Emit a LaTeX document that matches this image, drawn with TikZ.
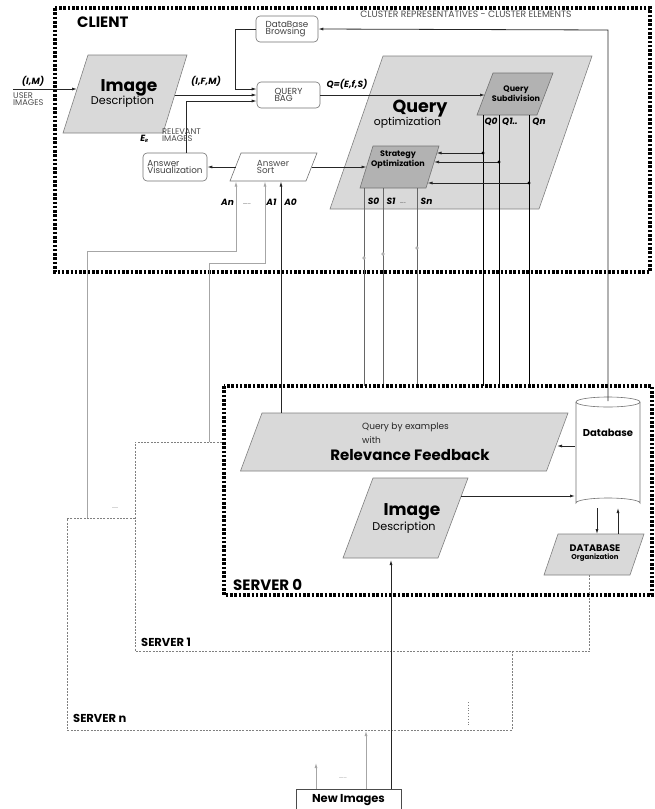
\documentclass[tikz,border=0pt]{standalone}
\usepackage{fontspec}
\setmainfont{Poppins}
\usetikzlibrary{arrows.meta,calc}
\begin{document}
\begin{tikzpicture}[x=1pt,y=-1pt,
  bigdot/.style={line width=3.2pt, dash pattern=on 2.6pt off 1.7pt},
  srvdash/.style={draw=black!50, line width=0.6pt, dash pattern=on 2pt off 1.3pt},
  plight/.style={draw=black!50, line width=0.6pt, fill=black!15},
  pdark/.style={draw=black!55, line width=0.6pt, fill=black!30},
  pwhite/.style={draw=black!55, line width=0.6pt, fill=white},
  rbox/.style={draw=black!55, line width=0.6pt, rounded corners=4pt, fill=white, align=left, text=black!75, font=\fontsize{8.8}{7.5}\selectfont, inner sep=0pt},
  tip/.style={-{Latex[length=5pt,width=3pt]}},
  arr/.style={draw=black!85, line width=0.8pt, tip},
  qarr/.style={draw=black, line width=1pt, tip},
  sarr/.style={draw=black!60, line width=0.6pt, tip},
  garr/.style={draw=black!35, line width=0.8pt, tip},
  lbl/.style={font=\bfseries\itshape\fontsize{9}{9}\selectfont, inner sep=0pt},
  thin/.style={font=\fontsize{8.3}{7}\selectfont, text=black!70, inner sep=0pt, align=left},
  big/.style={font=\bfseries\fontsize{17}{17}\selectfont, inner sep=0pt},
  desc/.style={font=\fontsize{11.2}{11.2}\selectfont, inner sep=0pt},
  subbox/.style={font=\bfseries\fontsize{8}{8.5}\selectfont, inner sep=0pt, align=center},
  srvlbl/.style={font=\bfseries\fontsize{15}{15}\selectfont, inner sep=0pt, anchor=west},
  srvlbls/.style={font=\bfseries\fontsize{11.5}{11.5}\selectfont, inner sep=0pt, anchor=west},
  dotsm/.style={font=\fontsize{5}{5}\selectfont, inner sep=0pt}
]
\useasboundingbox (0,0) rectangle (655,809);

% ---------------- server n and server 1 (dashed, behind) -------------
\draw[srvdash] (135,518) -- (67,518) -- (67,730) -- (512,730) -- (512,651);
\draw[srvdash] (222,442) -- (135,442) -- (135,651) -- (589,651);
\node[srvlbls] (srvn) at (73,718) {SERVER n};
\node[srvlbls] (srv1) at (141,642) {SERVER 1};
\draw[black!50, line width=0.8pt, dotted] (468,702) -- (468,727);
\node[dotsm, text=black!60] (ndots) at (115,508) {......};

% ---------------- CLIENT --------------------
\draw[bigdot] (55,8) rectangle (650,272);
\node[srvlbl] (client) at (77,22.5) {CLIENT};

% image description (client)
\draw[plight] (63,133) -- (163,133) -- (187,55) -- (88,55) -- cycle;
\node[big] (imgc) at (129,87.5) {Image};
\node[desc] (descc) at (122.5,102) {Description};
\coordinate (idcIn) at (77,89);
\coordinate (idcOut) at (175,95);
\coordinate (userin) at (13,89);
\node[lbl] (im) at (33,81) {(I,M)};
\node[thin, anchor=north west] (users) at (13,92) {USER\\IMAGES};
\draw[arr] (userin) -- (idcIn);
\node[lbl] (ifm) at (206,81) {(I,F,M)};

% boxes
\node[rbox, minimum width=62pt, minimum height=26pt] (dbb) at (287,29) {DataBase\\Browsing};
\node[rbox, minimum width=63pt, minimum height=26pt] (qbag) at (288.5,95) {QUERY\\BAG};
\node[rbox, minimum width=64pt, minimum height=28pt] (avis) at (175,167) {Answer\\Visualization};

% answer sort
\draw[pwhite] (230,181) -- (306,181) -- (317,153) -- (241,153) -- cycle;
\node[thin, font=\fontsize{8.8}{7.5}\selectfont] (asort) at (273,167) {Answer\\Sort};
\coordinate (asL) at (235.5,167);
\coordinate (asR) at (311.5,167);

% relevant images
\node[lbl] (er) at (144.5,139) {E\textsubscript{\fontsize{4.5}{4.5}\selectfont R}};
\node[thin, anchor=west] (relimg) at (162,135.5) {RELEVANT\\IMAGES};

% connectors to query bag
\draw[arr] (dbb.west) -- (235,29) |- ($(qbag.west)+(0,-6)$);
\draw[arr] (idcOut) -- (qbag.west);
\draw[arr] ($(avis.north)+(11,0)$) |- ($(qbag.west)+(0,6)$);
\draw[arr] (asL) -- (avis.east);

% query optimization
\draw[plight] (330,209) -- (539,209) -- (592,56) -- (383,56) -- cycle;
\node[font=\bfseries\fontsize{17.5}{17.5}\selectfont, inner sep=0pt] (qopt) at (420,109) {Query};
\node[desc, font=\fontsize{10.8}{10.8}\selectfont] (qopt2) at (407.5,123) {optimization};
\node[lbl] (qefs) at (347,84) {Q=(E,f,S)};

% query subdivision
\draw[pdark] (477,115) -- (537,115) -- (553,73) -- (493,73) -- cycle;
\node[subbox] (qsub) at (516,93.5) {Query\\Subdivision};
\coordinate (qsubIn) at (485,95);
\draw[arr] (qbag.east) -- (qsubIn);

% strategy optimization
\draw[pdark] (360,188) -- (426,188) -- (439,146) -- (373,146) -- cycle;
\node[subbox] (strat) at (398,159.5) {Strategy\\Optimization};
\coordinate (stL) at (366.5,167);
\draw[arr] (asR) -- (stL);

% Q lines
\coordinate (q0t) at (483,115); \coordinate (q0b) at (483,413);
\coordinate (q1t) at (499,115); \coordinate (q1b) at (499,413);
\coordinate (qnt) at (529,115); \coordinate (qnb) at (529,413);
\draw[qarr] (q0t) -- (q0b);
\draw[qarr] (q1t) -- (q1b);
\draw[qarr] (qnt) -- (qnb);
\node[lbl] (q0) at (491,121.5) {Q0};
\node[lbl] (q1) at (510,121.5) {Q1..};
\node[lbl] (qn) at (539,121.5) {Qn};
\coordinate (q0s) at (483,153); \coordinate (s0e) at (436.5,153);
\coordinate (q1s) at (499,162); \coordinate (s1e) at (434,162);
\coordinate (qns) at (529,183); \coordinate (sne) at (427.5,183);
\draw[arr] (q0s) -- (s0e);
\draw[arr] (q1s) -- (s1e);
\draw[arr] (qns) -- (sne);
\fill (q0s) circle (1.6); \fill (q1s) circle (1.6); \fill (qns) circle (1.6);

% S lines
\coordinate (s0t) at (364,188); \coordinate (s0b) at (364,413);
\coordinate (s1t) at (383,188); \coordinate (s1b) at (383,413);
\coordinate (snt) at (417,188); \coordinate (snb) at (417,413);
\draw[sarr] (s0t) -- (s0b);
\draw[sarr] (s1t) -- (s1b);
\draw[sarr] (snt) -- (snb);
\fill[black!30] (364,258) circle (1.8);
\fill[black!30] (383,254) circle (1.8);
\fill[black!30] (417,248) circle (1.8);
\node[lbl] (s0) at (373.5,201.5) {S0};
\node[lbl] (s1) at (391,201.5) {S1};
\node[dotsm] (sdots) at (403,203.5) {.....};
\node[lbl] (sn) at (426.5,201.5) {Sn};

% answers
\node[lbl] (an) at (227.5,202.5) {An};
\node[dotsm] (adots) at (247,204.5) {.......};
\node[lbl] (a1) at (271.5,202.5) {A1};
\node[lbl] (a0) at (290.5,202.5) {A0};

% cluster line
\node[thin, font=\fontsize{9.2}{9.2}\selectfont] (clus) at (466,14.5) {CLUSTER REPRESENTATIVES - CLUSTER ELEMENTS};

% ---------------- SERVER 0 --------------------
\draw[bigdot, fill=white] (224,386) rectangle (652,595);
\node[srvlbl] (srv0) at (233,584.5) {SERVER 0};

% relevance feedback
\draw[plight] (240.5,471) -- (546.5,471) -- (568,413) -- (262,413) -- cycle;
\node[thin, font=\fontsize{9}{9}\selectfont, text=black!85, anchor=west] (qbe) at (362,427.5) {Query by examples};
\node[thin, font=\fontsize{9}{9}\selectfont, text=black!85, anchor=west] (with) at (362,440) {with};
\node[font=\bfseries\fontsize{15}{15}\selectfont, inner sep=0pt] (rf) at (410,455.5) {Relevance Feedback};

% database cylinder
\fill[white] (576,402) -- (576,503) arc[start angle=180, end angle=360, x radius=32, y radius=5] -- (640,402) -- cycle;
\draw[black!55, line width=0.6pt] (576,402) -- (576,503) arc[start angle=180, end angle=360, x radius=32, y radius=5] -- (640,402);
\draw[black!55, line width=0.6pt] (608,402) ellipse[x radius=32, y radius=5];
\node[font=\bfseries\fontsize{10}{10}\selectfont, inner sep=0pt] (dbtxt) at (608,432.5) {Database};
\coordinate (dbTop) at (608,401);
\coordinate (dbLrf) at (575,446);
\coordinate (rfR) at (557,446);
\coordinate (dbLin) at (575,496);
\coordinate (dbBd) at (597,508);
\coordinate (dbBu) at (618,508);

% image description (server)
\draw[plight] (343,558) -- (438,558) -- (468,478) -- (373,478) -- cycle;
\node[big] (imgs) at (412,512) {Image};
\node[desc] (descs) at (404,527.5) {Description};
\coordinate (idsOut) at (461,496);
\coordinate (idsIn) at (391,560);

% DB organization
\draw[plight] (544,575) -- (630,575) -- (644,534) -- (558,534) -- cycle;
\node[font=\bfseries\fontsize{9.5}{9.5}\selectfont, inner sep=0pt] (dbo1) at (595,548.5) {DATABASE};
\node[font=\bfseries\fontsize{7}{7}\selectfont, inner sep=0pt] (dbo2) at (595,558) {Organization};
\coordinate (dboTd) at (597,534);
\coordinate (dboTu) at (618,534);
\draw[srvdash] (589,575) -- (589,651);

% server 0 connectors
\draw[arr] (dbLrf) -- (rfR);
\draw[arr] (idsOut) -- (dbLin);
\draw[arr] (dbBd) -- (dboTd);
\draw[arr] (dboTu) -- (dbBu);
\draw[arr] (dbTop) -- (608,30) -- (dbb.east);

% answers to answer sort
\draw[garr] (87,518) -- (87,251) -- (236,251) -- (236,181.5);
\draw[garr] (209,442) -- (209,263) -- (265,263) -- (265,181.5);
\draw[arr] (281,413) -- (281,181.5);

% new images
\node[font=\bfseries\fontsize{11.5}{11.5}\selectfont, inner sep=0pt] (newimg) at (348.5,800.5) {New Images};
\draw[black!70, line width=0.6pt] (296,812) -- (296,789) -- (401,789) -- (401,812);
\draw[arr] (391,789) -- (idsIn);
\draw[garr] (366,789) -- (366,731);
\draw[garr] (316,789) -- (316,763);
\node[dotsm, text=black!60] (ndots2) at (343,778) {.......};
\end{tikzpicture}
\end{document}
